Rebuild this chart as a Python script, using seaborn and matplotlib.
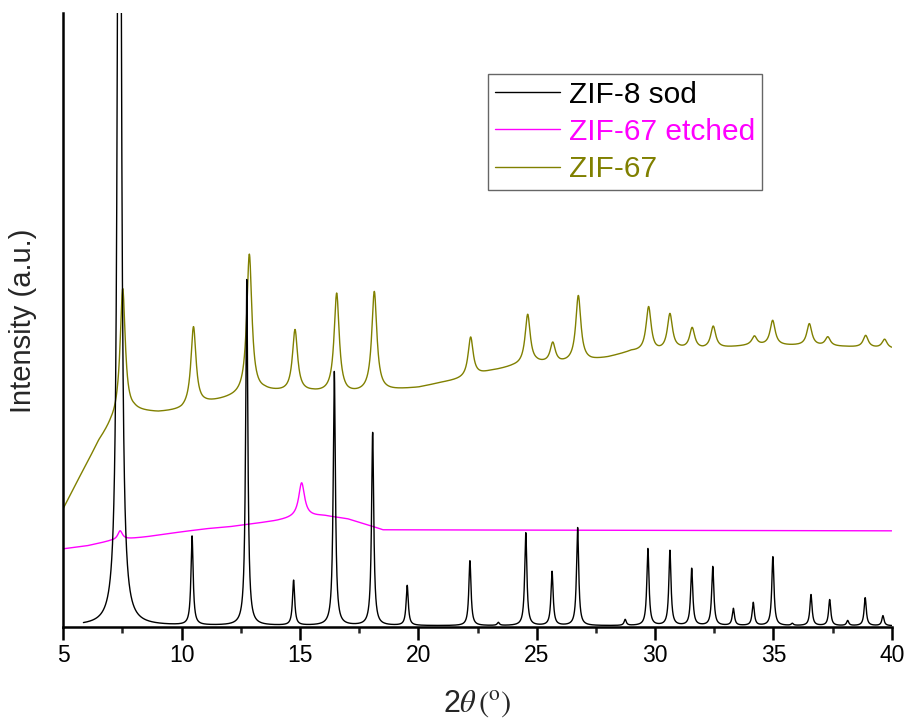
import numpy as np
import pandas as pd
import matplotlib
matplotlib.use("Agg")
import matplotlib.pyplot as plt
from matplotlib.ticker import MultipleLocator
import seaborn as sns

# ---------------- data ----------------
series_labels = ["ZIF-8 sod", "ZIF-67 etched", "ZIF-67"]
series_colors = ["#000000", "#FF00FF", "#808000"]
x_ticks = [5, 10, 15, 20, 25, 30, 35, 40]

# ZIF-8 sod (simulated pattern): peak positions (2theta) and heights (a.u.)
sod_pos = [7.37, 10.44, 12.75, 14.73, 16.45, 18.07, 19.53, 22.18, 23.38,
           24.54, 25.65, 26.73, 28.74, 29.70, 30.63, 31.55, 32.44, 33.31,
           34.15, 34.98, 35.80, 36.59, 37.38, 38.14, 38.88, 39.63]
sod_height = [1500, 89, 346, 45, 254, 193, 40, 65, 3,
              93, 54, 98, 6, 77, 75, 57, 59, 17,
              23, 69, 2, 31, 26, 5, 28, 10]
sod_hwhm = [0.07] + [0.055] * 25
sod_range = [5.85, 40.0]

# ZIF-67: background points and peaks above the background
zif67_bg_x = [5.0, 5.5, 6.0, 6.5, 7.0, 7.3, 8.0, 9.0, 10.0, 11.0, 12.0, 13.5,
              14.5, 15.5, 17.0, 18.8, 20.0, 21.0, 22.0, 23.0, 24.0, 25.0,
              26.0, 27.3, 28.0, 29.0, 30.0, 31.0, 32.0, 33.0, 34.0, 36.0,
              38.0, 40.0]
zif67_bg_y = [117, 140, 162, 184, 200, 207, 214, 213, 215, 222, 227, 234,
              233, 233, 231, 235, 238, 243, 247, 254, 259, 262,
              262, 265, 268, 274, 273, 276, 276, 278, 280, 280,
              279, 277]
zif67_pos = [7.51, 10.50, 12.86, 14.79, 16.55, 18.14, 22.21, 24.62, 25.68,
             26.76, 29.73, 30.63, 31.57, 32.46, 34.20, 34.97, 36.52, 37.30,
             38.90, 39.70]
zif67_height = [128, 80, 140, 62, 100, 100, 40, 50, 20,
                66, 45, 36, 21, 22, 9, 25, 22, 9,
                12, 9]
zif67_hwhm = [0.13] * 20

# ZIF-67 etched: background points and peaks
etched_bg_x = [5.0, 6.0, 7.0, 8.5, 10.0, 11.0, 12.0, 13.0, 14.0, 15.0, 16.0,
               17.0, 18.0, 18.5, 40.0]
etched_bg_y = [77, 80, 85, 89, 94, 97, 99, 102, 105, 109, 110,
               107, 100, 96, 95]
etched_pos = [7.40, 15.07]
etched_height = [9, 34]
etched_hwhm = [0.12, 0.15]


def lorentz_sum(x, pos, height, hwhm):
    y = np.zeros_like(x)
    for p, h, w in zip(pos, height, hwhm):
        y += h * w ** 2 / ((x - p) ** 2 + w ** 2)
    return y


x_sod = np.arange(sod_range[0], sod_range[1] + 1e-9, 0.004)
y_sod = lorentz_sum(x_sod, sod_pos, sod_height, sod_hwhm)

x_full = np.arange(5.0, 40.0 + 1e-9, 0.01)
y_zif67 = np.interp(x_full, zif67_bg_x, zif67_bg_y) + lorentz_sum(
    x_full, zif67_pos, zif67_height, zif67_hwhm)
y_etched = np.interp(x_full, etched_bg_x, etched_bg_y) + lorentz_sum(
    x_full, etched_pos, etched_height, etched_hwhm)

df_sod = pd.DataFrame({"two_theta": x_sod, "intensity": y_sod})
df_etched = pd.DataFrame({"two_theta": x_full, "intensity": y_etched})
df_zif67 = pd.DataFrame({"two_theta": x_full, "intensity": y_zif67})

# ---------------- styling ----------------
sns.set_style("white")
plt.rcParams["font.family"] = ["Liberation Sans", "DejaVu Sans"]
plt.rcParams["mathtext.fontset"] = "stix"

fig = plt.figure(figsize=(9.07, 7.22), dpi=100)
ax = fig.add_axes([63.3 / 907, 94.7 / 722, 828.4 / 907, 614.3 / 722])

frames = [df_sod, df_etched, df_zif67]
zorders = [3, 2, 1]
for df, lab, col, z in zip(frames, series_labels, series_colors, zorders):
    sns.lineplot(data=df, x="two_theta", y="intensity", ax=ax, color=col,
                 label=lab, linewidth=1.0, estimator=None, sort=False,
                 zorder=z)

ax.set_xlim(5, 40)
ax.set_ylim(-1.5, 613)
ax.set_xticks(x_ticks)
ax.set_xticklabels([str(t) for t in x_ticks])
ax.xaxis.set_minor_locator(MultipleLocator(2.5))
ax.set_yticks([])

for s in ["top", "right"]:
    ax.spines[s].set_visible(False)
for s in ["left", "bottom"]:
    ax.spines[s].set_linewidth(1.8)
    ax.spines[s].set_color("black")

ax.tick_params(axis="x", which="major", direction="out", length=9, width=1.8,
               labelsize=16.5, pad=3.0, bottom=True, colors="black")
ax.tick_params(axis="x", which="minor", direction="out", length=4.5,
               width=1.8, bottom=True)

ax.set_xlabel(r"2$\theta\,(^{\mathrm{o}})$", fontsize=22, va="center")
ax.xaxis.set_label_coords(0.5, -0.125)
ax.set_ylabel("Intensity (a.u.)", fontsize=21)
ax.yaxis.set_label_coords(-0.0317, 0.4986)

leg = ax.legend(loc="upper left", bbox_to_anchor=(488 / 907, 1 - 74 / 722),
                bbox_transform=fig.transFigure, fontsize=21.5, frameon=True,
                fancybox=False, shadow=False, handlelength=2.2,
                handletextpad=0.3, borderpad=0.22, labelspacing=0.31,
                borderaxespad=0.0)
leg.get_frame().set_edgecolor("#404040")
leg.get_frame().set_linewidth(1.0)
for txt, col in zip(leg.get_texts(), series_colors):
    txt.set_color(col)
for line in leg.get_lines():
    line.set_linewidth(1.0)

fig.savefig("out.png", dpi=100)
